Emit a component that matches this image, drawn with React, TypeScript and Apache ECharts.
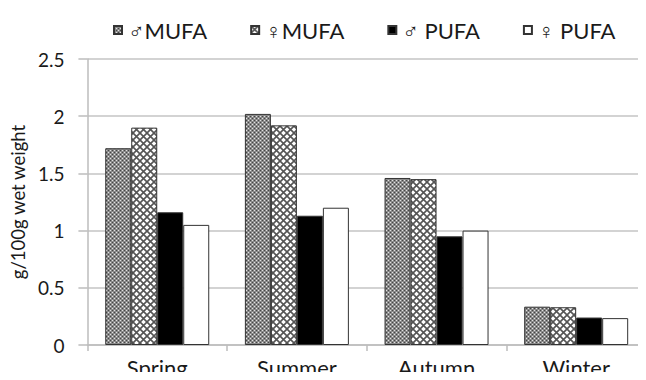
import React, { useEffect, useRef } from "react";
import * as echarts from "echarts";

const categories = ["Spring", "Summer", "Autumn", "Winter"];
const seriesNames = ["♂MUFA", "♀MUFA", "♂ PUFA", "♀ PUFA"];
const maleMUFA = [1.72, 2.02, 1.46, 0.335];
const femaleMUFA = [1.9, 1.92, 1.45, 0.33];
const malePUFA = [1.16, 1.13, 0.95, 0.24];
const femalePUFA = [1.05, 1.2, 1.0, 0.235];
const yTicks = [0, 0.5, 1, 1.5, 2, 2.5];

function makeChecker(): HTMLCanvasElement {
  const c = document.createElement("canvas");
  c.width = 4;
  c.height = 4;
  const ctx = c.getContext("2d")!;
  ctx.fillStyle = "#8a8a8a";
  ctx.fillRect(0, 0, 4, 4);
  ctx.fillStyle = "#e2e2e2";
  ctx.fillRect(0, 0, 1, 1);
  ctx.fillRect(2, 2, 1, 1);
  ctx.fillStyle = "#454545";
  ctx.fillRect(2, 0, 1, 1);
  ctx.fillRect(0, 2, 1, 1);
  return c;
}

function makeCross(): HTMLCanvasElement {
  const s = 7;
  const c = document.createElement("canvas");
  c.width = s;
  c.height = s;
  const ctx = c.getContext("2d")!;
  ctx.fillStyle = "#ffffff";
  ctx.fillRect(0, 0, s, s);
  ctx.strokeStyle = "#555555";
  ctx.lineWidth = 1.6;
  ctx.beginPath();
  ctx.moveTo(-1, -1);
  ctx.lineTo(s + 1, s + 1);
  ctx.moveTo(s + 1, -1);
  ctx.lineTo(-1, s + 1);
  ctx.stroke();
  return c;
}

export default function App() {
  const ref = useRef<HTMLDivElement>(null);
  useEffect(() => {
    if (!ref.current) return;
    const chart = echarts.init(ref.current, undefined, { renderer: "svg" });
    const checker = { image: makeChecker(), repeat: "repeat" } as any;
    const cross = { image: makeCross(), repeat: "repeat" } as any;
    const fills: any[] = [checker, cross, "#000000", "#ffffff"];
    const datas = [maleMUFA, femaleMUFA, malePUFA, femalePUFA];
    const font = "Lato, 'Open Sans', sans-serif";
    chart.setOption({
      animation: false,
      backgroundColor: "#ffffff",
      legend: {
        top: 14,
        left: 108,
        itemWidth: 8,
        itemHeight: 8,
        itemGap: 43,
        icon: "rect",
        textStyle: { fontSize: 22, color: "#1a1a1a", fontFamily: font, padding: [0, 0, 0, 1] },
        data: seriesNames,
      },
      grid: { left: 87, top: 59, width: 564, height: 286, containLabel: false },
      xAxis: {
        type: "category",
        data: categories,
        axisLine: { lineStyle: { color: "#bdbdbd", width: 1.5 } },
        axisTick: { show: true, length: 6, lineStyle: { color: "#bdbdbd", width: 1.5 } },
        axisLabel: { fontSize: 22, color: "#1a1a1a", fontFamily: font, margin: 11 },
      },
      yAxis: {
        type: "value",
        min: 0,
        max: 2.5,
        interval: 0.5,
        name: "g/100g wet weight",
        nameLocation: "middle",
        nameGap: 54,
        nameTextStyle: { fontSize: 18.5, color: "#1a1a1a", fontFamily: font },
        axisLine: { show: true, lineStyle: { color: "#bdbdbd", width: 1.5 } },
        axisTick: { show: true, length: 9, lineStyle: { color: "#bdbdbd", width: 1.5 } },
        splitLine: { lineStyle: { color: "#c4c4c4", width: 1.5 } },
        axisLabel: {
          fontSize: 19,
          color: "#1a1a1a",
          fontFamily: font,
          margin: 23,
          formatter: (v: number) => (yTicks.includes(v) ? String(v) : ""),
        },
      },
      series: seriesNames.map((n, i) => ({
        name: n,
        type: "bar",
        data: datas[i],
        barWidth: 26,
        barGap: "0%",
        itemStyle: { color: fills[i], borderColor: "#333333", borderWidth: 1 },
      })),
    });
    return () => chart.dispose();
  }, []);
  return <div ref={ref} style={{ width: 646, height: 380, margin: -8 }} />;
}
